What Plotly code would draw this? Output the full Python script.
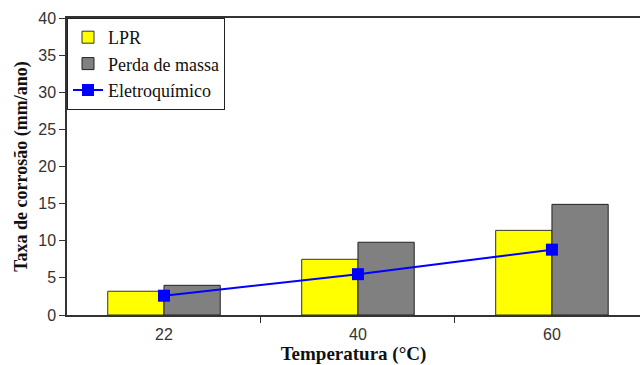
import plotly.graph_objects as go

temperaturas = ["22", "40", "60"]
lpr = [3.2, 7.5, 11.4]
perda_massa = [4.0, 9.8, 14.9]
eletroquimico = [2.6, 5.5, 8.8]

idx = list(range(len(temperaturas)))

fig = go.Figure()
fig.add_trace(go.Bar(x=idx, y=lpr, name="LPR", marker=dict(color="#ffff00", line=dict(color="#333333", width=1))))
fig.add_trace(go.Bar(x=idx, y=perda_massa, name="Perda de massa", marker=dict(color="#808080", line=dict(color="#222222", width=1))))
fig.add_trace(go.Scatter(x=idx, y=eletroquimico, name="Eletroquímico", mode="lines+markers",
                         line=dict(color="#0000ff", width=2),
                         marker=dict(symbol="square", size=12, color="#0000ff")))

fig.update_layout(
    width=640, height=365,
    margin=dict(l=67, r=0, t=18, b=50),
    paper_bgcolor="white", plot_bgcolor="white",
    barmode="group", bargap=0.42, bargroupgap=0,
    font=dict(family="Liberation Sans, Arial", size=16, color="#333333"),
    legend=dict(x=0, y=1, xanchor="left", yanchor="top",
                bgcolor="white", bordercolor="#222222", borderwidth=1,
                font=dict(family="Liberation Serif, Times New Roman", size=18, color="#111111"),
                tracegroupgap=0, itemwidth=30),
    showlegend=True,
)
fig.update_xaxes(
    range=[-0.5, 2.454], tickmode="array", tickvals=idx, ticktext=temperaturas,
    ticks="", showgrid=False, zeroline=False, ticklabelstandoff=4,
    showline=True, linecolor="#333333", linewidth=1.5, mirror=True,
    minor=dict(tickmode="array", tickvals=[0.5, 1.5], ticks="outside", ticklen=6, tickcolor="#333333", tickwidth=1, showgrid=False),
    title=dict(text="<b>Temperatura (°C)</b>", standoff=3,
               font=dict(family="Liberation Serif, Times New Roman", size=19, color="#111111")),
)
fig.update_yaxes(
    range=[0, 40], dtick=5, ticks="outside", ticklen=6, tickcolor="#333333",
    showgrid=False, zeroline=False, showline=True, linecolor="#333333", linewidth=1.5,
    title=dict(text="<b>Taxa de corrosão (mm/ano)</b>", standoff=6,
               font=dict(family="Liberation Serif, Times New Roman", size=18, color="#111111")),
)

fig.write_html("out.html")
